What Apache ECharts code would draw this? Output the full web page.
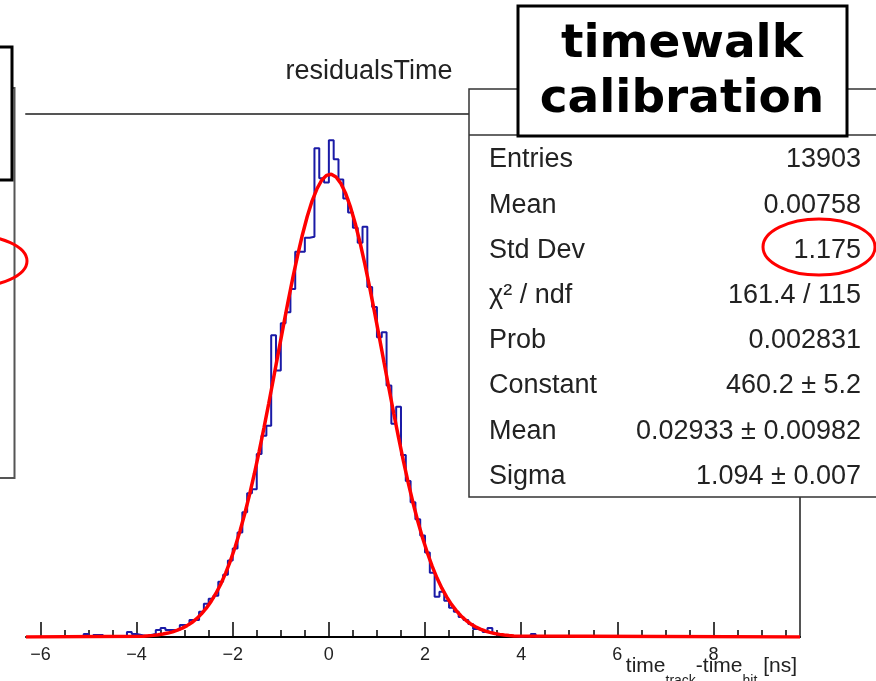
<!DOCTYPE html>
<html>
<head>
<meta charset="utf-8">
<title>residualsTime</title>
<script src="https://cdn.jsdelivr.net/npm/echarts@6/dist/echarts.min.js"></script>
<style>
  html, body { margin: 0; padding: 0; background: #fff; }
  #main { width: 876px; height: 681px; }
</style>
</head>
<body>
<div id="main"></div>
<script>
// histogram: 0.1 ns bins, first bin starts at -5.1
const binLow = -5.1
const binWidth = 0.1
const counts = [
  3, 0, 2, 2, 0, 0, 1, 0, 1, 5,
  3, 2, 1, 2, 3, 7, 9, 7, 7, 7,
  12, 12, 17, 17, 25, 33, 38, 41, 55, 62,
  76, 88, 104, 124, 143, 147, 182, 200, 210, 300,
  265, 312, 323, 346, 383, 383, 397, 398, 486, 456,
  452, 494, 475, 455, 436, 422, 407, 392, 408, 348,
  328, 298, 303, 250, 212, 229, 181, 155, 134, 117,
  101, 84, 64, 40, 45, 36, 29, 25, 20, 17,
  13, 8, 7, 5, 9, 4, 2, 2, 1, 1,
  0, 1, 0, 3, 0
]

// gaus fit, sampled every 0.1 from -3.85
const fitStart = -3.85
const fitStep = 0.1
const fitValues = [
  0.85, 1.18, 1.61, 2.2, 2.9, 3.9, 5.1, 6.8, 8.8, 11.3,
  14.4, 18.2, 23.0, 28.6, 35.4, 43.3, 52.5, 63.3, 75.5, 89.5,
  105.1, 122.5, 141.6, 162.3, 184.6, 208.0, 232.4, 257.5, 283.0, 308.3,
  333.2, 357.1, 379.5, 400.0, 418.1, 433.4, 445.4, 454.1, 459.0, 460.1,
  457.4, 450.9, 440.9, 427.4, 410.9, 391.8, 370.5, 347.4, 323.0, 297.9,
  272.4, 247.1, 222.2, 198.2, 175.2, 153.5, 133.5, 115.1, 98.4, 83.5,
  70.2, 58.6, 48.5, 39.9, 32.4, 26.2, 20.9, 16.6, 13.0, 10.2,
  7.9, 6.0, 4.6, 3.5, 2.6, 1.9, 1.4, 1.0
]

const xRange = [-6.3, 9.8]
const yMax = 520
const majorTicks = [-6, -4, -2, 0, 2, 4, 6, 8]
const minorTicks = [-5.5, -5, -4.5, -3.5, -3, -2.5, -1.5, -1, -0.5, 0.5, 1, 1.5,
  2.5, 3, 3.5, 4.5, 5, 5.5, 6.5, 7, 7.5, 8.5, 9, 9.5]

const statLabels = ['Entries', 'Mean', 'Std Dev', 'χ² / ndf', 'Prob', 'Constant', 'Mean', 'Sigma']
const statValues = ['13903', '0.00758', '1.175', '161.4 / 115', '0.002831', '460.2 ± 5.2', '0.02933 ± 0.00982', '1.094 ± 0.007']

const histData = [[binLow, 0]]
counts.forEach((c, i) => histData.push([+(binLow + i * binWidth).toFixed(2), c]))
histData.push([+(binLow + counts.length * binWidth).toFixed(2), 0])

const fitData = [[xRange[0], 0]]
fitValues.forEach((v, i) => fitData.push([+(fitStart + i * fitStep).toFixed(2), v]))
fitData.push([xRange[1], 0])

const font = '"Liberation Sans", Arial, Helvetica, sans-serif'

let chart = echarts.init(document.getElementById('main'))

let graphics = [
  // pieces of the neighbouring panel on the left
  { type: 'rect', z: 100, shape: { x: -20, y: 47, width: 32, height: 133 },
    style: { fill: '#fff', stroke: '#000', lineWidth: 3 } },
  { type: 'polyline', z: 99, shape: { points: [[0, 88], [14.5, 88], [14.5, 478], [0, 478]] },
    style: { fill: null, stroke: '#555', lineWidth: 2 } },
  { type: 'ellipse', z: 101, shape: { cx: -30, cy: 261, rx: 57, ry: 26 },
    style: { fill: null, stroke: '#ff0000', lineWidth: 3 } },

  // title
  { type: 'text', z: 100, x: 369, y: 72,
    style: { text: 'residualsTime', font: '27px ' + font, fill: '#222', align: 'center', verticalAlign: 'middle' } },

  // stats box
  { type: 'rect', z: 100, shape: { x: 469, y: 89, width: 430, height: 408 },
    style: { fill: '#fff', stroke: '#333', lineWidth: 1.5 } },
  { type: 'line', z: 101, shape: { x1: 469, y1: 135, x2: 876, y2: 135 },
    style: { stroke: '#333', lineWidth: 1.5 } },

  // x axis title
  { type: 'text', z: 100, x: 797, y: 656,
    style: {
      text: 'time{sub|track}-time{sub|hit} [ns]',
      font: '21px ' + font, fill: '#222', align: 'right', verticalAlign: 'top',
      rich: {
        sub: { fontSize: 14, fontFamily: font, lineHeight: 14, padding: [18, 0, 0, 0], verticalAlign: 'top', fill: '#222' }
      }
    } }
]

statLabels.forEach((t, i) => {
  let y = 160 + i * 45.2
  graphics.push({ type: 'text', z: 102, x: 489, y: y,
    style: { text: t, font: '27px ' + font, fill: '#222', align: 'left', verticalAlign: 'middle' } })
  graphics.push({ type: 'text', z: 102, x: 861, y: y,
    style: { text: statValues[i], font: '27px ' + font, fill: '#222', align: 'right', verticalAlign: 'middle' } })
})

graphics.push(
  // red ring around std dev
  { type: 'ellipse', z: 103, shape: { cx: 819, cy: 247, rx: 56, ry: 28 },
    style: { fill: null, stroke: '#ff0000', lineWidth: 3 } },
  // the label box on top
  { type: 'rect', z: 110, shape: { x: 518, y: 6, width: 329, height: 130 },
    style: { fill: '#fff', stroke: '#000', lineWidth: 3 } },
  { type: 'text', z: 111, x: 682, y: 45,
    style: { text: 'timewalk', font: 'bold 47px "DejaVu Sans", sans-serif', fill: '#000', align: 'center', verticalAlign: 'middle' } },
  { type: 'text', z: 111, x: 682, y: 100,
    style: { text: 'calibration', font: 'bold 47px "DejaVu Sans", sans-serif', fill: '#000', align: 'center', verticalAlign: 'middle' } }
)

let option = {
  animation: false,
  backgroundColor: '#fff',
  grid: { left: 26, right: 76, top: 114, bottom: 44, containLabel: false },
  xAxis: [
    {
      type: 'value', min: xRange[0], max: xRange[1], position: 'bottom',
      axisLine: { show: true, onZero: false, lineStyle: { color: '#000', width: 2 } },
      axisTick: { show: true, inside: true, length: 15, customValues: majorTicks, lineStyle: { color: '#000', width: 1.5 } },
      axisLabel: {
        show: true, customValues: majorTicks, margin: 9, fontSize: 18, fontFamily: font, color: '#222',
        formatter: v => String(v).replace('-', '\u2212')
      },
      splitLine: { show: false }
    },
    {
      // minor ticks
      type: 'value', min: xRange[0], max: xRange[1], position: 'bottom',
      axisLine: { show: false },
      axisTick: { show: true, inside: true, length: 7, customValues: minorTicks, lineStyle: { color: '#000', width: 1.5 } },
      axisLabel: { show: false },
      splitLine: { show: false }
    },
    {
      // frame top
      type: 'value', min: xRange[0], max: xRange[1], position: 'top',
      axisLine: { show: true, onZero: false, lineStyle: { color: '#555', width: 2 } },
      axisTick: { show: false }, axisLabel: { show: false }, splitLine: { show: false }
    }
  ],
  yAxis: [
    {
      type: 'value', min: 0, max: yMax,
      axisLine: { show: false }, axisTick: { show: false }, axisLabel: { show: false }, splitLine: { show: false }
    },
    {
      // frame right
      type: 'value', min: 0, max: yMax, position: 'right',
      axisLine: { show: true, onZero: false, lineStyle: { color: '#555', width: 2 } },
      axisTick: { show: false }, axisLabel: { show: false }, splitLine: { show: false }
    }
  ],
  series: [
    {
      name: 'residualsTime',
      type: 'line',
      step: 'end',
      symbol: 'none',
      data: histData,
      lineStyle: { color: '#1a1aa6', width: 2 },
      z: 3
    },
    {
      name: 'gaus',
      type: 'line',
      symbol: 'none',
      data: fitData,
      lineStyle: { color: '#ff0000', width: 3.5 },
      z: 4
    }
  ],
  graphic: graphics
}

chart.setOption(option)
</script>
</body>
</html>
